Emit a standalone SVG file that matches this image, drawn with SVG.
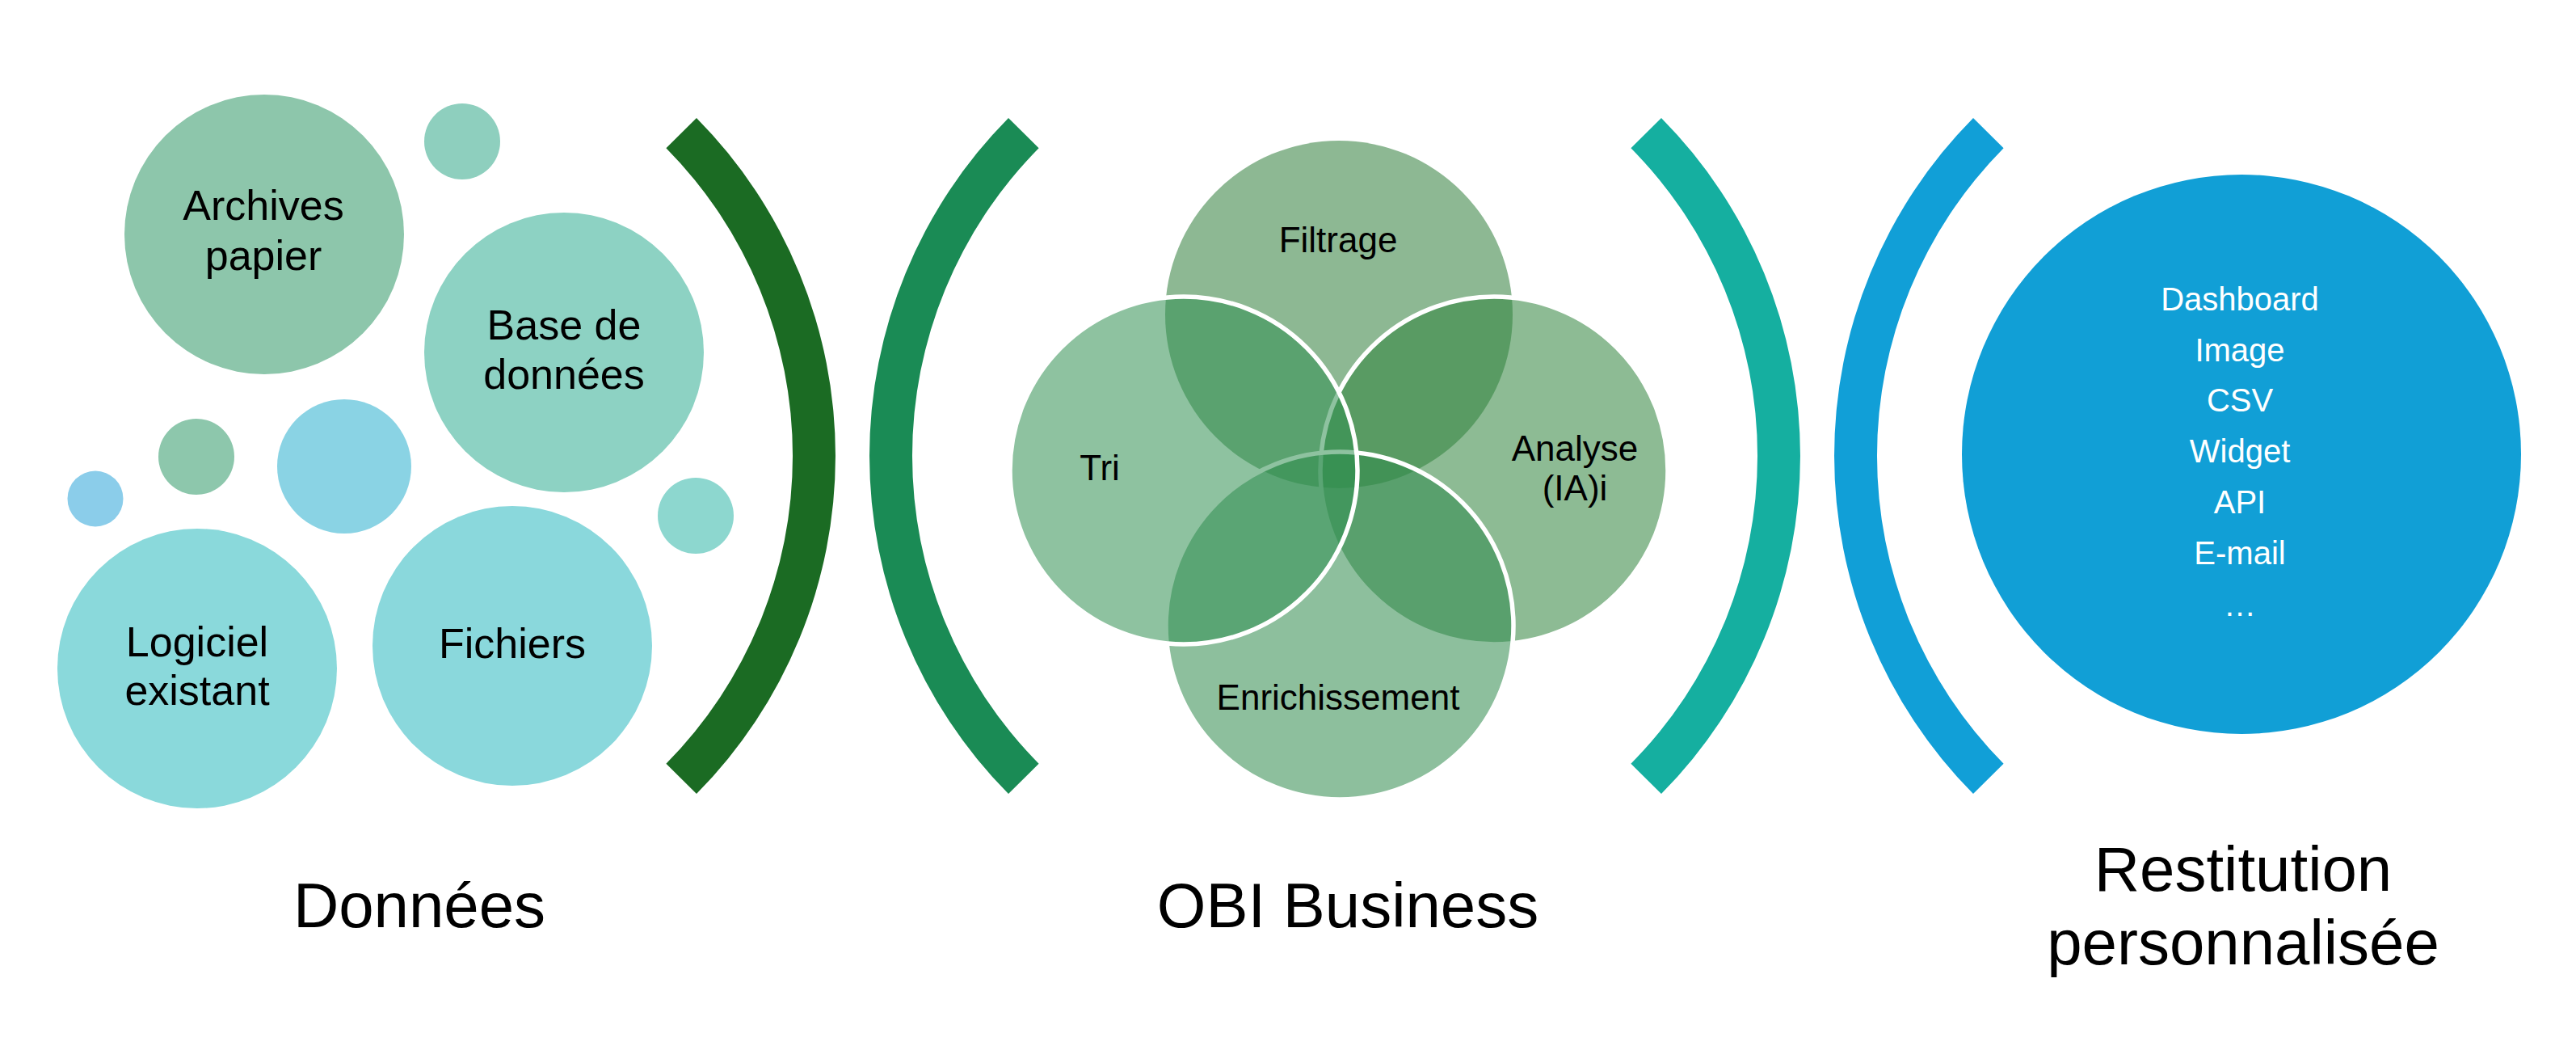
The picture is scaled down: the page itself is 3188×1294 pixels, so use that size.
<svg xmlns="http://www.w3.org/2000/svg" width="3188" height="1294" viewBox="0 0 3188 1294">
  <style>
    text { font-family: "Liberation Sans", Arial, sans-serif; text-anchor: middle; fill: #000000; }
    .lbl { font-size: 52px; }
    .venn { font-size: 44px; }
    .out { font-size: 40px; fill: #FFFFFF; }
    .title { font-size: 78px; }
    .vc { fill-opacity: 0.55; }
    .vs { stroke: #FFFFFF; stroke-width: 5.5; }
  </style>
  <rect x="0" y="0" width="3188" height="1294" fill="#FFFFFF"/>

  <!-- Data bubbles -->
  <g id="archives-papier">
    <circle cx="327" cy="290" r="173" fill="#8DC6AB"/>
    <text class="lbl" x="326" y="272">Archives</text>
    <text class="lbl" x="326" y="334">papier</text>
  </g>
  <g id="bubble-small-top">
    <circle cx="572" cy="175" r="47" fill="#8ECFBE"/>
  </g>
  <g id="base-de-donnees">
    <circle cx="698" cy="436" r="173" fill="#8DD2C3"/>
    <text class="lbl" x="698" y="420">Base de</text>
    <text class="lbl" x="698" y="481">données</text>
  </g>
  <g id="bubble-small-green">
    <circle cx="243" cy="565" r="47" fill="#8DC7AC"/>
  </g>
  <g id="bubble-small-blue">
    <circle cx="118" cy="617" r="34.5" fill="#8BCDEA"/>
  </g>
  <g id="bubble-medium-blue">
    <circle cx="426" cy="577" r="83" fill="#8AD3E4"/>
  </g>
  <g id="bubble-small-right">
    <circle cx="861" cy="638" r="47" fill="#8DD7CF"/>
  </g>
  <g id="logiciel-existant">
    <circle cx="244" cy="827" r="173" fill="#8AD9DB"/>
    <text class="lbl" x="244" y="812">Logiciel</text>
    <text class="lbl" x="244" y="872">existant</text>
  </g>
  <g id="fichiers">
    <circle cx="634" cy="799" r="173" fill="#8AD8DC"/>
    <text class="lbl" x="634" y="814">Fichiers</text>
  </g>

  <!-- Bracket separators -->
  <g id="separators">
    <path id="bracket-1" fill="#1B6B23" d="M 862 146 A 594 594 0 0 1 862 982 L 824.4 944.7 A 541 541 0 0 0 824.4 183.3 Z"/>
    <path id="bracket-2" fill="#1A8B55" d="M 1248 146 A 594 594 0 0 0 1248 982 L 1285.6 944.7 A 541 541 0 0 1 1285.6 183.3 Z"/>
    <path id="bracket-3" fill="#15AFA0" d="M 2056 146 A 594 594 0 0 1 2056 982 L 2018.4 944.7 A 541 541 0 0 0 2018.4 183.3 Z"/>
    <path id="bracket-4" fill="#119FD7" d="M 2442 146 A 594 594 0 0 0 2442 982 L 2479.6 944.7 A 541 541 0 0 1 2479.6 183.3 Z"/>
  </g>

  <!-- Venn diagram -->
  <g id="filtrage">
    <circle class="vc" cx="1657" cy="389" r="215" fill="#307E3B"/>
  </g>
  <g id="analyse">
    <circle class="vc vs" cx="1849" cy="582" r="215" fill="#30833C"/>
  </g>
  <g id="enrichissement">
    <circle class="vc vs" cx="1658" cy="774" r="215" fill="#308B4D"/>
  </g>
  <g id="tri">
    <circle class="vc vs" cx="1465" cy="582" r="215" fill="#329052"/>
  </g>
  <g id="venn-labels">
    <text class="venn" x="1656" y="312">Filtrage</text>
    <text class="venn" x="1361" y="594">Tri</text>
    <text class="venn" x="1949" y="570">Analyse</text>
    <text class="venn" x="1949" y="619">(IA)i</text>
    <text class="venn" x="1656" y="878">Enrichissement</text>
  </g>

  <!-- Output circle -->
  <g id="restitution-formats">
    <circle cx="2774" cy="562" r="346" fill="#119FD6"/>
    <text class="out" x="2772" y="384">Dashboard</text>
    <text class="out" x="2772" y="447">Image</text>
    <text class="out" x="2772" y="509">CSV</text>
    <text class="out" x="2772" y="572">Widget</text>
    <text class="out" x="2772" y="635">API</text>
    <text class="out" x="2772" y="698">E-mail</text>
    <text class="out" x="2772" y="762">…</text>
  </g>

  <!-- Section titles -->
  <g id="title-donnees">
    <text class="title" x="519" y="1147">Données</text>
  </g>
  <g id="title-obi">
    <text class="title" x="1668" y="1147">OBI Business</text>
  </g>
  <g id="title-restitution">
    <text class="title" x="2776" y="1102">Restitution</text>
    <text class="title" x="2776" y="1193">personnalisée</text>
  </g>
</svg>
